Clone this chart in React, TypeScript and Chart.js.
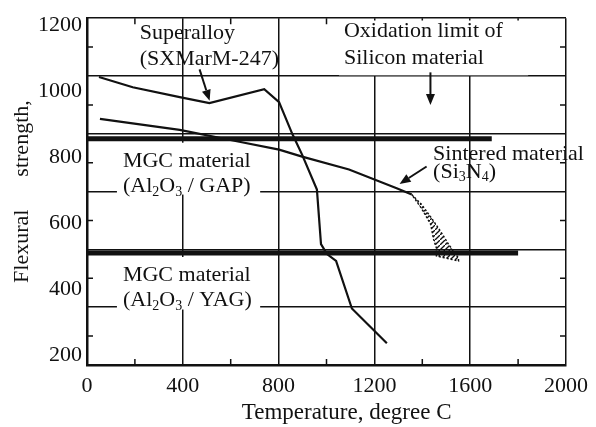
import React, { useEffect, useRef } from 'react';
import { Chart, registerables } from 'chart.js';

Chart.register(...registerables);

// ---- data ----
const superalloyX = [50, 191, 387, 511, 740, 802, 857, 898, 960, 977, 1002, 1040, 1106, 1252];
const superalloyY = [1042, 1011, 981, 963, 1005, 966, 870, 807, 701, 536, 506, 485, 341, 236];

const sinteredX = [54, 387, 636, 802, 898, 1094, 1293, 1356];
const sinteredY = [915, 882, 846, 822, 801, 762, 705, 686];

const scatterBandX = [1356, 1397, 1439, 1476, 1509, 1551, 1551, 1459, 1459, 1447, 1435, 1397, 1356];
const scatterBandY = [686, 656, 614, 575, 536, 494, 485, 500, 524, 551, 596, 644, 686];

const gapX = [0, 1690];
const gapY = [855, 855];

const yagX = [0, 1800];
const yagY = [509, 509];

const xTicks = [0, 400, 800, 1200, 1600, 2000];
const yTicks = [200, 400, 600, 800, 1000, 1200];
const xMinorTicks = [200, 600, 1000, 1400, 1800];
const gridDivisions = [0, 1, 2, 3, 4, 5, 6, 7, 8, 9, 10, 11, 12];

const INK = '#111';
const FONT = "'Liberation Serif', 'DejaVu Serif', serif";

type Run = { t: string; sub?: boolean };
const labels: { x: number; y: number; runs: Run[] }[] = [
  { x: 220, y: 1175, runs: [{ t: 'Superalloy' }] },
  { x: 220, y: 1097, runs: [{ t: '(SXMarM-247)' }] },
  { x: 1073, y: 1182, runs: [{ t: 'Oxidation limit of' }] },
  { x: 1073, y: 1100, runs: [{ t: 'Silicon material' }] },
  { x: 1445, y: 807, runs: [{ t: 'Sintered material' }] },
  { x: 1445, y: 755, runs: [{ t: '(Si' }, { t: '3', sub: true }, { t: 'N' }, { t: '4', sub: true }, { t: ')' }] },
  { x: 150, y: 788, runs: [{ t: 'MGC material' }] },
  { x: 150, y: 710, runs: [{ t: '(Al' }, { t: '2', sub: true }, { t: 'O' }, { t: '3', sub: true }, { t: ' / GAP)' }] },
  { x: 150, y: 442, runs: [{ t: 'MGC material' }] },
  { x: 150, y: 365, runs: [{ t: '(Al' }, { t: '2', sub: true }, { t: 'O' }, { t: '3', sub: true }, { t: ' / YAG)' }] },
];

const arrows = [
  { x1: 470, y1: 1065, x2: 512, y2: 970 },
  { x1: 1434, y1: 1056, x2: 1434, y2: 957 },
  { x1: 1418, y1: 771, x2: 1305, y2: 718 },
];

const whiteBoxes = [
  { x0: 1052, x1: 1842, y0: 1213, y1: 1047 },
  { x0: 125, x1: 723, y0: 843, y1: 686 },
  { x0: 125, x1: 723, y0: 497, y1: 338 },
];

const zip = (xs: number[], ys: number[]) => xs.map((x, i) => ({ x, y: ys[i] }));

const annotPlugin = {
  id: 'annot',
  beforeDatasetsDraw(chart: any) {
    const { ctx, chartArea, scales } = chart;
    const { x, y, yg } = scales;
    ctx.save();
    ctx.strokeStyle = INK;
    ctx.lineWidth = 1.5;
    ctx.beginPath();
    xMinorTicks.forEach((v) => {
      const px = x.getPixelForValue(v);
      ctx.moveTo(px, chartArea.bottom);
      ctx.lineTo(px, chartArea.bottom - 6);
      ctx.moveTo(px, chartArea.top);
      ctx.lineTo(px, chartArea.top + 6);
    });
    gridDivisions.filter((v) => v % 2 === 1).forEach((v) => {
      const py = yg.getPixelForValue(v);
      ctx.moveTo(chartArea.left, py);
      ctx.lineTo(chartArea.left + 6, py);
      ctx.moveTo(chartArea.right, py);
      ctx.lineTo(chartArea.right - 6, py);
    });
    ctx.stroke();
    ctx.fillStyle = '#fff';
    whiteBoxes.forEach((b) => {
      const X0 = x.getPixelForValue(b.x0);
      const X1 = x.getPixelForValue(b.x1);
      const Y0 = y.getPixelForValue(b.y0);
      const Y1 = y.getPixelForValue(b.y1);
      ctx.fillRect(X0, Y0, X1 - X0, Y1 - Y0);
    });
    ctx.restore();
  },
  afterDatasetsDraw(chart: any) {
    const { ctx, scales } = chart;
    const { x, y } = scales;
    ctx.save();
    ctx.fillStyle = INK;
    ctx.strokeStyle = INK;
    ctx.textBaseline = 'middle';
    ctx.textAlign = 'left';
    labels.forEach((l) => {
      let px = x.getPixelForValue(l.x);
      const py = y.getPixelForValue(l.y);
      l.runs.forEach((r) => {
        ctx.font = r.sub ? `14px ${FONT}` : `22px ${FONT}`;
        ctx.fillText(r.t, px, r.sub ? py + 6 : py);
        px += ctx.measureText(r.t).width;
      });
    });
    arrows.forEach((a) => {
      const X1 = x.getPixelForValue(a.x1);
      const Y1 = y.getPixelForValue(a.y1);
      const X2 = x.getPixelForValue(a.x2);
      const Y2 = y.getPixelForValue(a.y2);
      const ang = Math.atan2(Y2 - Y1, X2 - X1);
      const hl = 11;
      const hw = 4.5;
      const bx = X2 - hl * Math.cos(ang);
      const by = Y2 - hl * Math.sin(ang);
      ctx.lineWidth = 2;
      ctx.beginPath();
      ctx.moveTo(X1, Y1);
      ctx.lineTo(bx, by);
      ctx.stroke();
      ctx.beginPath();
      ctx.moveTo(X2, Y2);
      ctx.lineTo(bx + hw * Math.sin(ang), by - hw * Math.cos(ang));
      ctx.lineTo(bx - hw * Math.sin(ang), by + hw * Math.cos(ang));
      ctx.closePath();
      ctx.fill();
    });
    ctx.restore();
  },
};

function makeHatch(): CanvasPattern | string {
  const c = document.createElement('canvas');
  c.width = 5;
  c.height = 5;
  const g = c.getContext('2d');
  if (!g) return 'rgba(0,0,0,0.3)';
  g.strokeStyle = INK;
  g.lineWidth = 1.3;
  g.beginPath();
  g.moveTo(0, 5);
  g.lineTo(5, 0);
  g.stroke();
  return g.createPattern(c, 'repeat') || 'rgba(0,0,0,0.3)';
}

export default function App() {
  const ref = useRef<HTMLCanvasElement | null>(null);
  useEffect(() => {
    if (!ref.current) return;
    const hatch = makeHatch();
    const lineDs = (data: any[], width: number) => ({
      data,
      borderColor: INK,
      backgroundColor: INK,
      borderWidth: width,
      pointRadius: 0,
      tension: 0,
      fill: false,
      xAxisID: 'x',
      yAxisID: 'y',
    });
    const chart = new Chart(ref.current, {
      type: 'line',
      data: {
        datasets: [
          { ...lineDs(zip(gapX, gapY), 5), label: 'MGC (Al2O3/GAP)' },
          { ...lineDs(zip(yagX, yagY), 5), label: 'MGC (Al2O3/YAG)' },
          { ...lineDs(zip(superalloyX, superalloyY), 2.2), label: 'Superalloy (SXMarM-247)' },
          { ...lineDs(zip(sinteredX, sinteredY), 2.2), label: 'Sintered Si3N4' },
          {
            ...lineDs(zip(scatterBandX, scatterBandY), 1.5),
            label: 'Sintered Si3N4 scatter',
            borderDash: [2, 2],
            backgroundColor: hatch as any,
            fill: 'shape',
          },
        ],
      },
      options: {
        animation: false,
        responsive: true,
        maintainAspectRatio: false,
        layout: { padding: { top: 15, right: 28, bottom: 0, left: 0 } },
        plugins: { legend: { display: false }, tooltip: { enabled: false } },
        scales: {
          x: {
            type: 'linear',
            min: 0,
            max: 2000,
            afterBuildTicks: (s: any) => {
              s.ticks = xTicks.map((v) => ({ value: v }));
            },
            afterFit: (s: any) => {
              s.height = 62;
            },
            grid: { color: INK, lineWidth: 1.5, drawTicks: false },
            border: { color: INK, width: 2.5 },
            ticks: {
              color: INK,
              font: { family: FONT, size: 22 },
              padding: 8,
              maxRotation: 0,
              callback: (v: any) => String(v),
            },
            title: {
              display: true,
              text: '       Temperature, degree C',
              color: INK,
              font: { family: FONT, size: 23 },
              padding: { top: 0, bottom: 0 },
            },
          },
          y: {
            type: 'linear',
            position: 'left',
            min: 170,
            max: 1220,
            afterBuildTicks: (s: any) => {
              s.ticks = yTicks.map((v) => ({ value: v }));
            },
            afterFit: (s: any) => {
              s.width = 87;
            },
            grid: { display: false, drawTicks: false },
            border: { color: INK, width: 2.5 },
            ticks: {
              color: INK,
              font: { family: FONT, size: 22 },
              padding: 5,
              callback: (v: any) => String(v),
            },
            title: {
              display: true,
              text: 'Flexural      strength,',
              color: INK,
              font: { family: FONT, size: 22 },
              padding: { top: 9, bottom: 0 },
            },
          },
          yg: {
            type: 'linear',
            position: 'right',
            min: 0,
            max: 12,
            afterBuildTicks: (s: any) => {
              s.ticks = gridDivisions.map((v) => ({ value: v }));
            },
            afterFit: (s: any) => {
              s.width = 0;
            },
            grid: {
              drawTicks: false,
              lineWidth: 1.5,
              color: (c: any) => (c.tick && c.tick.value % 2 === 0 ? INK : 'rgba(0,0,0,0)'),
            },
            border: { display: false },
            ticks: { display: false },
          },
        },
      },
      plugins: [annotPlugin],
    } as any);
    return () => chart.destroy();
  }, []);
  return (
    <div style={{ position: 'fixed', left: 0, top: 0, width: 596, height: 427, background: '#fff' }}>
      <canvas ref={ref} />
    </div>
  );
}
